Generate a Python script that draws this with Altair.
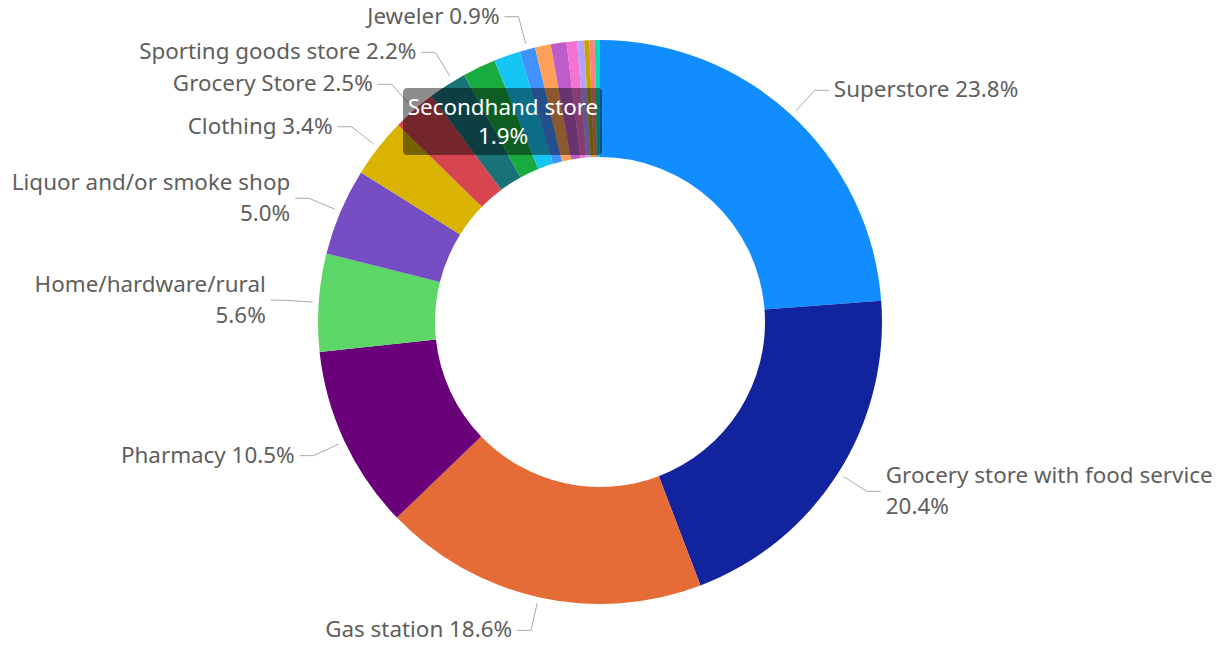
import math
import altair as alt
import pandas as pd

# ---------------- data ----------------
names = [
    "Superstore", "Grocery store with food service", "Gas station", "Pharmacy",
    "Home/hardware/rural", "Liquor and/or smoke shop", "Clothing", "Grocery Store",
    "Sporting goods store", "Secondhand store", "Convenience store", "Jeweler",
    "Dollar store", "Department store", "Bookstore", "Electronics store",
    "Florist", "Pet store", "Other",
]
values = [23.8, 20.4, 18.6, 10.5, 5.6, 5.0, 3.4, 2.5, 2.2, 1.9,
          1.5, 0.9, 0.9, 0.9, 0.6, 0.4, 0.3, 0.3, 0.3]
colors = [
    "#118DFF", "#12239E", "#E66C37", "#6B007B", "#5BD667", "#744EC2", "#D9B300",
    "#D64550", "#197278", "#1AAB40", "#15C6F4", "#4092FF", "#FFA058", "#BE5DC9",
    "#F472D0", "#B5A1FF", "#C4A200", "#FF8080", "#00DBBC",
]
labeled = ["Superstore", "Grocery store with food service", "Gas station", "Pharmacy",
           "Home/hardware/rural", "Liquor and/or smoke shop", "Clothing",
           "Grocery Store", "Sporting goods store", "Jeweler"]
wrapped = ["Grocery store with food service", "Home/hardware/rural",
           "Liquor and/or smoke shop"]
tooltip_item = "Secondhand store"

# ---------------- geometry ----------------
W, H = 1211, 632
CX, CY = 592, 314
OUTER, INNER = 282, 165
R1, R2, HSEG, GAP = 288, 316, 14, 5
SLOT = 32            # vertical room per label line when labels collide
FONT = "Noto Sans"
FS = 22.4
LH = 31
TEXT_COLOR = "#605E5C"

xs = alt.Scale(domain=[-CX, W - CX], nice=False, zero=False)
ys = alt.Scale(domain=[-(H - CY), CY], nice=False, zero=False)

slices = pd.DataFrame({"name": names, "value": values, "idx": list(range(len(names)))})

# label anchor points on the circle of radius R2, from slice mid angles
total = sum(values)
anchors = []
cum = 0.0
for n, v in zip(names, values):
    mid = cum + v / 2
    cum += v
    if n in labeled:
        phi = 2 * math.pi * mid / total
        s, c = math.sin(phi), math.cos(phi)
        anchors.append({"name": n, "v": v, "side": 1 if s >= 0 else -1,
                        "y": R2 * c, "lines": 2 if n in wrapped else 1})

# simple collision avoidance: push labels upward on each side
for side in (1, -1):
    grp = sorted([a for a in anchors if a["side"] == side], key=lambda a: a["y"])
    for prev, cur in zip(grp, grp[1:]):
        need = prev["y"] + SLOT * (prev["lines"] + cur["lines"]) / 2
        if cur["y"] < need:
            cur["y"] = min(need, R2)

line_rows, text_rows = [], []
for a in anchors:
    side, y2 = a["side"], a["y"]
    x2 = side * math.sqrt(max(R2 ** 2 - y2 ** 2, 0.0))
    p1 = (x2 * R1 / R2, y2 * R1 / R2)
    p2 = (x2, y2)
    p3 = (x2 + side * HSEG, y2)
    for k, p in enumerate([p1, p2, p3]):
        line_rows.append({"name": a["name"], "k": k, "x": p[0], "y": p[1]})
    pct = f"{a['v']:.1f}%"
    if a["lines"] == 2:
        txt, ty = f"{a['name']}\n{pct}", y2 + LH / 2
    else:
        txt, ty = f"{a['name']} {pct}", y2
    text_rows.append({"name": a["name"], "x": p3[0] + side * GAP, "y": ty,
                      "side": "right" if side > 0 else "left", "text": txt})

lines_df = pd.DataFrame(line_rows)
text_df = pd.DataFrame(text_rows)

tip_val = values[names.index(tooltip_item)]
tip_df = pd.DataFrame({"text": [f"{tooltip_item}\n{tip_val:.1f}%"]})

# ---------------- layers ----------------
arc = alt.Chart(slices).mark_arc(outerRadius=OUTER, innerRadius=INNER).encode(
    theta=alt.Theta("value:Q", stack=True),
    order=alt.Order("idx:Q"),
    color=alt.Color("name:N", scale=alt.Scale(domain=names, range=colors), legend=None),
    x=alt.datum(0, scale=xs, axis=None),
    y=alt.datum(0, scale=ys, axis=None),
)

leaders = alt.Chart(lines_df).mark_line(color="#AAAAAA", strokeWidth=1).encode(
    x=alt.X("x:Q", scale=xs, axis=None),
    y=alt.Y("y:Q", scale=ys, axis=None),
    detail="name:N",
    order="k:Q",
)

def label_layer(side, align):
    return alt.Chart(text_df).transform_filter(
        alt.datum.side == side
    ).mark_text(
        align=align, baseline="middle", font=FONT, fontSize=FS,
        color=TEXT_COLOR, lineBreak="\n", lineHeight=LH,
    ).encode(
        x=alt.X("x:Q", scale=xs, axis=None),
        y=alt.Y("y:Q", scale=ys, axis=None),
        text="text:N",
    )

# hover tooltip shown in the reference (Secondhand store)
tip_box = alt.Chart(tip_df).mark_rect(
    color="black", opacity=0.45, cornerRadius=4
).encode(
    x=alt.datum(-197, scale=xs, axis=None),
    x2=alt.datum(2),
    y=alt.datum(234, scale=ys, axis=None),
    y2=alt.datum(167),
)

tip_text = alt.Chart(tip_df).mark_text(
    align="center", baseline="middle", font=FONT, fontSize=FS,
    color="white", lineBreak="\n", lineHeight=29,
).encode(
    x=alt.datum(-97, scale=xs, axis=None),
    y=alt.datum(214, scale=ys, axis=None),
    text="text:N",
)

chart = alt.layer(
    arc, leaders, label_layer("right", "left"), label_layer("left", "right"),
    tip_box, tip_text,
).properties(
    width=W, height=H, padding=0,
    autosize=alt.AutoSizeParams(type="none"),
).configure_view(stroke=None)

chart.save("out.html", embed_options={"renderer": "svg", "actions": False})
